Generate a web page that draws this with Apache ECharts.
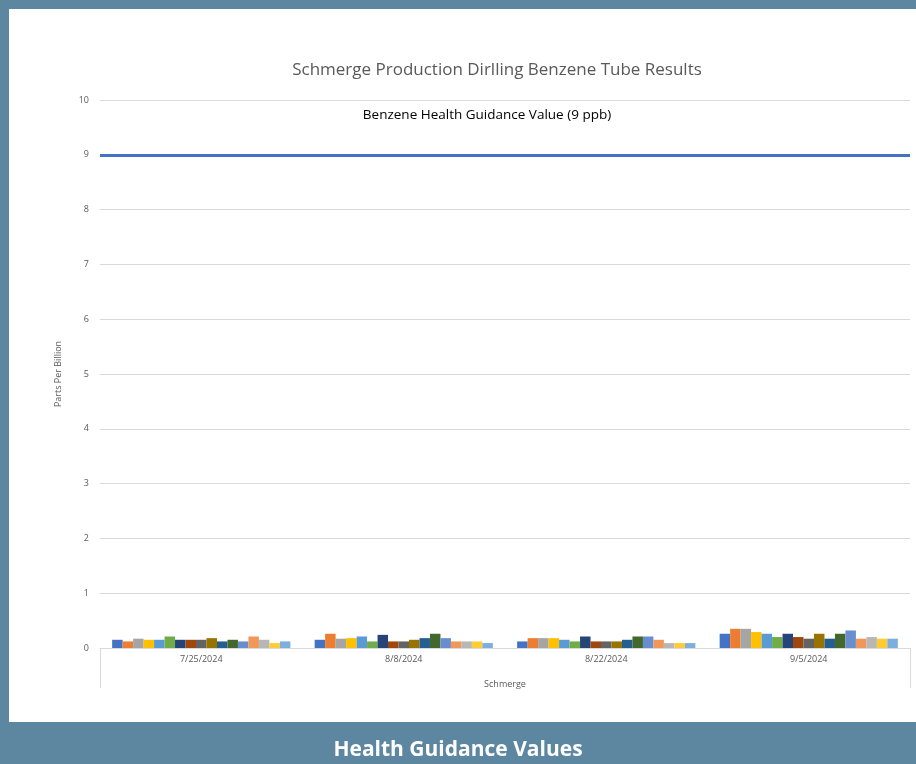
<!DOCTYPE html>
<html><head><meta charset="utf-8">
<script src="https://cdn.jsdelivr.net/npm/echarts@6/dist/echarts.min.js"></script>
<style>html,body{margin:0;padding:0;background:#5d87a1;}#c{width:916px;height:764px;}</style>
</head><body><div id="c"></div>
<script>
const categories = ['7/25/2024', '8/8/2024', '8/22/2024', '9/5/2024'];
const yTicks = [0,1,2,3,4,5,6,7,8,9,10];
const guidanceValue = 9;
const s01 = [0.15, 0.15, 0.12, 0.26];
const s02 = [0.12, 0.26, 0.18, 0.35];
const s03 = [0.17, 0.17, 0.18, 0.35];
const s04 = [0.15, 0.18, 0.18, 0.29];
const s05 = [0.15, 0.21, 0.15, 0.26];
const s06 = [0.21, 0.12, 0.12, 0.20];
const s07 = [0.15, 0.24, 0.21, 0.26];
const s08 = [0.15, 0.12, 0.12, 0.20];
const s09 = [0.15, 0.12, 0.12, 0.17];
const s10 = [0.18, 0.15, 0.12, 0.26];
const s11 = [0.12, 0.18, 0.15, 0.17];
const s12 = [0.15, 0.26, 0.21, 0.26];
const s13 = [0.12, 0.18, 0.21, 0.32];
const s14 = [0.21, 0.12, 0.15, 0.17];
const s15 = [0.15, 0.12, 0.09, 0.20];
const s16 = [0.09, 0.12, 0.09, 0.17];
const s17 = [0.12, 0.09, 0.09, 0.17];
const seriesData = [s01,s02,s03,s04,s05,s06,s07,s08,s09,s10,s11,s12,s13,s14,s15,s16,s17];
const colors = ['#4472C4','#ED7D31','#A5A5A5','#FFC000','#5B9BD5','#70AD47','#264478','#9E480E','#636363','#997300','#255E91','#43682B','#698ED0','#F1975A','#B7B7B7','#FFCD33','#7CAFDD'];

const chart = echarts.init(document.getElementById('c'));
const series = seriesData.map((d, i) => ({
  type: 'bar', data: d, barGap: '0%', barCategoryGap: '12%',
  itemStyle: { color: colors[i] }, animation: false
}));
series[0].markLine = {
  symbol: 'none', silent: true, animation: false,
  lineStyle: { color: '#4472C4', width: 3, type: 'solid' },
  label: { show: false },
  data: [{ yAxis: guidanceValue }]
};
chart.setOption({
  animation: false,
  color: colors,
  graphic: [
    { type: 'rect', shape: { x: 9, y: 9, width: 907, height: 713 }, style: { fill: '#ffffff' }, z: -10 },
    { type: 'text', left: 'center', top: 740, style: { text: 'Health Guidance Values', fill: '#ffffff', font: 'bold 21px "Open Sans"' } }
  ],
  title: [
    { text: 'Schmerge Production Dirlling Benzene Tube Results', left: 492, top: 57, textAlign: 'center',
      textStyle: { fontFamily: 'Open Sans', fontSize: 17, fontWeight: 'normal', color: '#595959' } },
    { text: 'Benzene Health Guidance Value (9 ppb)', left: 482, top: 103, textAlign: 'center',
      textStyle: { fontFamily: 'Open Sans', fontSize: 13.5, fontWeight: 'normal', color: '#000000' } }
  ],
  grid: { left: 100, right: 6, top: 100, bottom: 116 },
  xAxis: {
    type: 'category', data: categories,
    name: 'Schmerge', nameLocation: 'middle', nameGap: 32,
    nameTextStyle: { fontFamily: 'Open Sans', fontSize: 9, color: '#595959' },
    axisLine: { lineStyle: { color: '#d9d9d9' } },
    axisTick: { show: true, length: 40, lineStyle: { color: '#d9d9d9' }, interval: function (i) { return i === 0; } },
    axisLabel: { fontFamily: 'Open Sans', fontSize: 9, color: '#595959', margin: 7 }
  },
  yAxis: {
    type: 'value', min: 0, max: 10, interval: 1,
    name: 'Parts Per Billion', nameLocation: 'middle', nameGap: 37,
    nameTextStyle: { fontFamily: 'Open Sans', fontSize: 9, color: '#595959' },
    axisLine: { show: false }, axisTick: { show: false },
    axisLabel: { fontFamily: 'Open Sans', fontSize: 9, color: '#595959', margin: 11,
      formatter: v => yTicks.includes(v) ? String(v) : '' },
    splitLine: { lineStyle: { color: '#d9d9d9' } }
  },
  series: series
});
</script></body></html>
